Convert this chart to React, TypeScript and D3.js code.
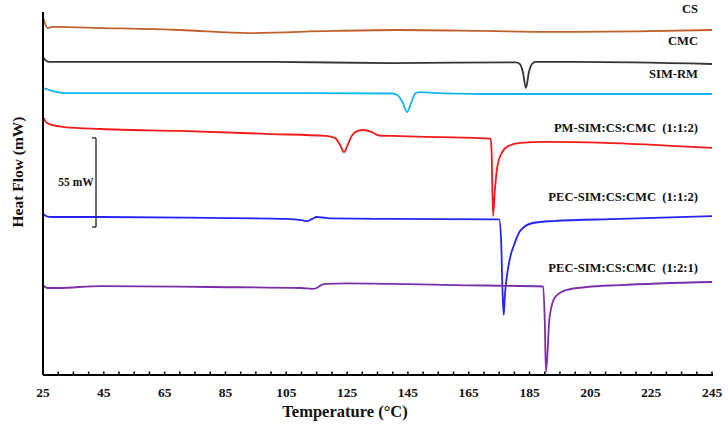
import React from "react";
import * as d3 from "d3";

// Temperature (°C) and heat-flow (mW, arbitrary offset) readings per curve
const csTemp = [25, 25.7, 26.5, 28, 45, 70, 93, 120, 142, 170, 192, 220, 245];
const csFlow = [220.9, 216.6, 214.1, 214.8, 214.1, 212.9, 211.0, 212.3, 212.9, 212.3, 211.7, 212.0, 212.9];

const cmcTemp = [25, 25.7, 27, 40, 100, 140, 180.5, 181.8, 182.8, 183.8, 184.8, 185.8, 187, 200, 245];
const cmcFlow = [196.2, 194.4, 193.2, 193.2, 193.2, 192.5, 192.9, 191.9, 187.0, 177.1, 187.0, 191.9, 193.2, 193.2, 191.9];

const simTemp = [25, 26, 28, 32, 60, 100, 140, 141.5, 143.2, 144.7, 146.2, 147.5, 149, 152, 170, 245];
const simFlow = [177.1, 176.5, 175.3, 174.0, 174.0, 174.0, 173.7, 172.8, 168.5, 162.3, 168.5, 174.0, 174.6, 174.3, 173.4, 173.4];

const pmTemp = [25, 26, 28, 32, 44, 70, 100, 118, 121, 122.7, 124, 125.2, 126.5, 128.5, 130.5, 133, 135.5, 140, 160, 172.2, 172.5, 173, 173.6, 174.5, 176, 178, 182, 190, 210, 230, 245];
const pmFlow = [159.2, 156.1, 154.3, 153.0, 151.8, 150.6, 148.7, 147.5, 146.3, 141.9, 137.6, 141.9, 147.5, 150.6, 151.2, 150.0, 147.8, 147.5, 146.6, 145.9, 138.8, 98.1, 114.2, 129.6, 137.6, 141.3, 143.2, 143.8, 143.2, 141.6, 140.1];

const pec112Temp = [25, 26, 28, 44, 80, 105, 110, 112, 113.5, 115, 117, 120, 140, 175.0, 175.65, 176.1, 176.5, 176.9, 177.6, 178.3, 178.9, 179.9, 181.9, 186.1, 192.7, 214.7, 245];
const pec112Flow = [100.0, 98.1, 97.5, 97.5, 96.9, 96.3, 95.6, 95.0, 96.3, 97.5, 97.2, 96.6, 96.3, 96.0, 83.3, 52.5, 37.0, 49.4, 61.7, 69.7, 74.7, 80.2, 88.9, 93.8, 95.0, 96.3, 98.1];

const pec121Temp = [25, 26.5, 30, 44, 80, 110, 113.5, 115, 116.5, 118, 125, 140, 160, 189.5, 190.0, 190.4, 191.6, 193.4, 197.3, 203.9, 214.7, 245];
const pec121Flow = [55.5, 53.7, 53.7, 54.9, 54.3, 53.7, 53.1, 53.7, 55.5, 56.2, 56.5, 56.2, 55.5, 54.6, 33.9, 1.9, 35.8, 48.1, 52.5, 54.3, 55.5, 57.4];

const seriesNames = ["CS", "CMC", "SIM-RM", "PM-SIM:CS:CMC  (1:1:2)", "PEC-SIM:CS:CMC  (1:1:2)", "PEC-SIM:CS:CMC  (1:2:1)"];
const seriesColors = ["#C0602A", "#353535", "#14B4EE", "#F21A1A", "#2424F5", "#7A2FA8"];
const seriesTemps = [csTemp, cmcTemp, simTemp, pmTemp, pec112Temp, pec121Temp];
const seriesFlows = [csFlow, cmcFlow, simFlow, pmFlow, pec112Flow, pec121Flow];
const labelFlows = [223.6, 203.9, 183.5, 149.7, 107.1, 63.3];

const xTickValues = [25, 45, 65, 85, 105, 125, 145, 165, 185, 205, 225, 245];
const scaleBarBottom = 91.3;
const scaleBarSize = 55;

export default function App() {
  const W = 728, H = 433;
  const left = 43, right = 712, top = 12, bottom = 375;
  const x = d3.scaleLinear().domain([25, 245]).range([left, right]);
  const y = d3.scaleLinear().domain([0, 224]).range([bottom, top]);
  const line = d3
    .line<[number, number]>()
    .x((d) => x(d[0]))
    .y((d) => y(d[1]))
    .curve(d3.curveMonotoneX);
  const minorTicks = d3.range(25, 245.01, 5);
  const font = "'Liberation Serif', 'Times New Roman', serif";

  return (
    <svg width={W} height={H} style={{ position: "absolute", left: 0, top: 0, background: "#fff" }}>
      {seriesTemps.map((ts, i) => {
        const pts = ts.map((t, j) => [t, seriesFlows[i][j]] as [number, number]);
        return (
          <path key={i} d={line(pts) || ""} fill="none" stroke={seriesColors[i]} strokeWidth={1.8} strokeLinejoin="round" />
        );
      })}
      {seriesNames.map((n, i) => (
        <text
          key={n}
          x={698}
          y={y(labelFlows[i])}
          textAnchor="end"
          fontFamily={font}
          fontWeight="bold"
          fontSize={12.6}
          style={{ whiteSpace: "pre" }}
          fill="#111"
        >
          {n}
        </text>
      ))}
      {/* axes */}
      <line x1={left} x2={left} y1={top} y2={bottom} stroke="#000" strokeWidth={2} />
      <line x1={left} x2={right + 1} y1={bottom} y2={bottom} stroke="#000" strokeWidth={2} />
      {minorTicks.map((t) => (
        <line key={t} x1={x(t)} x2={x(t)} y1={bottom} y2={bottom - 3.5} stroke="#000" strokeWidth={1.5} />
      ))}
      {xTickValues.map((t) => (
        <text key={t} x={x(t)} y={397} textAnchor="middle" fontFamily={font} fontWeight="bold" fontSize={13.5} fill="#111">
          {t}
        </text>
      ))}
      <text x={345} y={417} textAnchor="middle" fontFamily={font} fontWeight="bold" fontSize={16.5} fill="#111">
        Temperature (°C)
      </text>
      <text
        transform={`translate(23,172) rotate(-90)`}
        textAnchor="middle"
        fontFamily={font}
        fontWeight="bold"
        fontSize={15.5}
        fill="#111"
      >
        Heat Flow (mW)
      </text>
      {/* scale bar */}
      <g stroke="#222" strokeWidth={1.3} fill="none">
        <line x1={96} x2={96} y1={y(scaleBarBottom)} y2={y(scaleBarBottom + scaleBarSize)} />
        <line x1={92} x2={96} y1={y(scaleBarBottom)} y2={y(scaleBarBottom)} />
        <line x1={92} x2={96} y1={y(scaleBarBottom + scaleBarSize)} y2={y(scaleBarBottom + scaleBarSize)} />
      </g>
      <text
        x={76}
        y={(y(scaleBarBottom) + y(scaleBarBottom + scaleBarSize)) / 2 + 4}
        textAnchor="middle"
        fontFamily={font}
        fontWeight="bold"
        fontSize={11.5}
        fill="#111"
      >
        {`${scaleBarSize} mW`}
      </text>
    </svg>
  );
}
